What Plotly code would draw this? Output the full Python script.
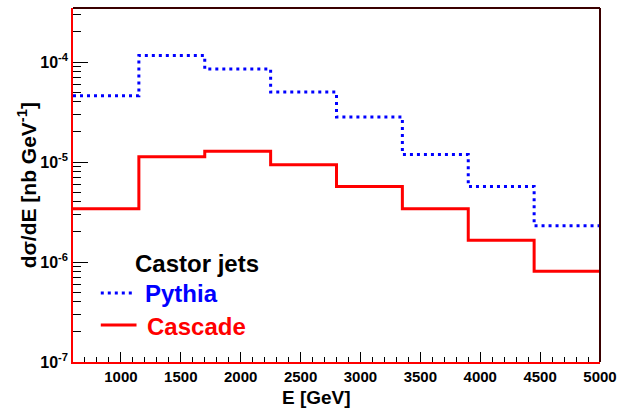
import plotly.graph_objects as go

# Bin edges in GeV (8 bins of 550 GeV)
bin_edges = [600, 1150, 1700, 2250, 2800, 3350, 3900, 4450, 5000]

# dsigma/dE per bin [nb/GeV]
pythia = [4.6e-5, 1.16e-4, 8.5e-5, 5.0e-5, 2.82e-5, 1.19e-5, 5.7e-6, 2.3e-6]
cascade = [3.4e-6, 1.13e-5, 1.28e-5, 9.4e-6, 5.7e-6, 3.4e-6, 1.65e-6, 8.1e-7]

ytick_vals = [1e-7, 1e-6, 1e-5, 1e-4]
ytick_text = ["10<sup>-7</sup>", "10<sup>-6</sup>", "10<sup>-5</sup>", "10<sup>-4</sup>"]
xtick_vals = [1000, 1500, 2000, 2500, 3000, 3500, 4000, 4500, 5000]

FONT = "Liberation Sans, Arial, sans-serif"


def step(values):
    # histogram outline: repeat last bin value at the upper edge
    return list(values) + [values[-1]]


fig = go.Figure()
fig.add_trace(go.Scatter(
    x=bin_edges, y=step(pythia), mode="lines", line_shape="hv",
    line=dict(color="#0000ff", width=3, dash="3px,4px"), name="Pythia",
    showlegend=False,
))
fig.add_trace(go.Scatter(
    x=bin_edges, y=step(cascade), mode="lines", line_shape="hv",
    line=dict(color="#ff0000", width=3), name="Cascade",
    showlegend=False,
))

L, R, T, B = 73, 21, 8, 51
W, H = 625, 413
pw, ph = W - L - R, H - T - B


def px(x):
    return (x - L) / pw


def py(y):
    return (H - B - y) / ph


fig.update_layout(
    width=W, height=H,
    margin=dict(l=L, r=R, t=T, b=B),
    paper_bgcolor="white", plot_bgcolor="white",
    font=dict(family=FONT, color="black"),
    xaxis=dict(
        range=[600, 5000], tickvals=xtick_vals,
        ticks="inside", ticklen=10, tickwidth=1, tickcolor="black",
        minor=dict(ticks="inside", ticklen=5, dtick=100, tick0=0, tickcolor="black"),
        showgrid=False, zeroline=False,
        showline=True, linecolor="#ff0000", linewidth=1.5,
        tickfont=dict(size=15, family=FONT, weight="bold"),
    ),
    yaxis=dict(
        type="log", range=[-7, -3.46],
        tickvals=ytick_vals, ticktext=ytick_text,
        ticks="inside", ticklen=15, tickwidth=1, tickcolor="black",
        minor=dict(ticks="inside", ticklen=8, dtick="D1", tickcolor="black"),
        showgrid=False, zeroline=False,
        showline=True, linecolor="#ff0000", linewidth=1.5,
        tickfont=dict(size=16, family=FONT, weight="bold"),
    ),
)

# frame: dark top and right edges
fig.add_shape(type="line", xref="paper", yref="paper", x0=0, x1=1, y0=1, y1=1,
              line=dict(color="#3a0000", width=2))
fig.add_shape(type="line", xref="paper", yref="paper", x0=1, x1=1, y0=0, y1=1,
              line=dict(color="#3a0000", width=2))


def label(text, x, y, size, color="black", xanchor="center", angle=0):
    fig.add_annotation(text=text, xref="paper", yref="paper",
                       x=px(x), y=py(y), xanchor=xanchor, yanchor="middle",
                       showarrow=False, textangle=angle,
                       font=dict(size=size, family=FONT, color=color))


# axis titles
label("<b>E [GeV]</b>", 318, 397, 19)
label("<b>d\u03c3/dE [nb GeV<sup>-1</sup>]</b>", 27, 185, 21, angle=-90)

# legend
label("<b>Castor jets</b>", 198, 263, 24)
label("<b>Pythia</b>", 144, 293, 24, color="#0000ff", xanchor="left")
label("<b>Cascade</b>", 146, 326, 24, color="#ff0000", xanchor="left")
fig.add_shape(type="line", xref="paper", yref="paper",
              x0=px(101), x1=px(135), y0=py(293), y1=py(293),
              line=dict(color="#0000ff", width=3, dash="3px,4px"))
fig.add_shape(type="line", xref="paper", yref="paper",
              x0=px(101), x1=px(137), y0=py(325), y1=py(325),
              line=dict(color="#ff0000", width=3))

fig.write_html("out.html")
